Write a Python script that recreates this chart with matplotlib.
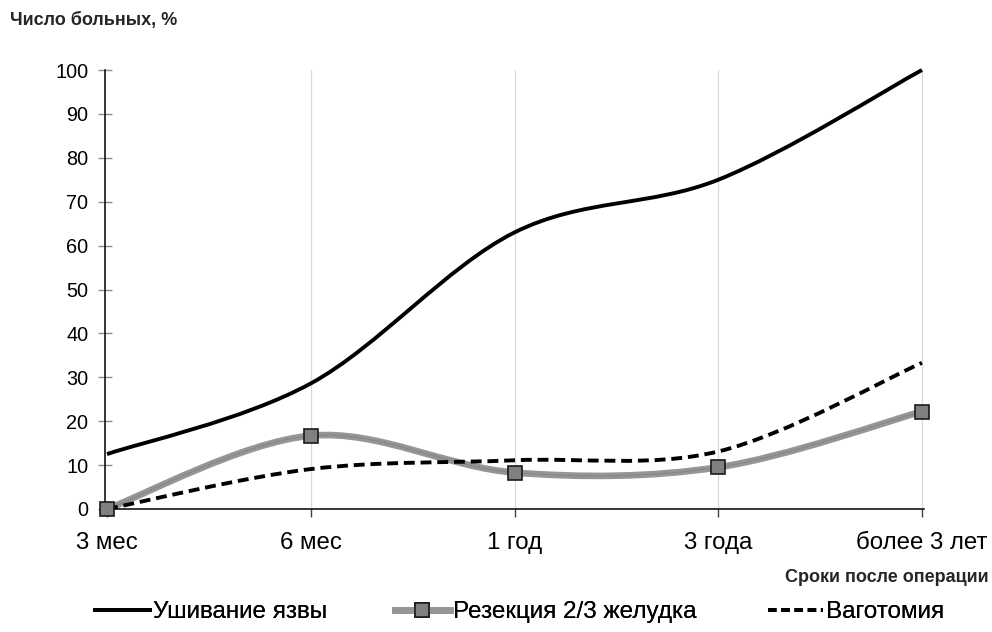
import matplotlib
matplotlib.use("Agg")
import matplotlib.pyplot as plt
import numpy as np
from matplotlib.path import Path
from matplotlib.patches import PathPatch
from matplotlib.lines import Line2D

plt.rcParams['font.family'] = ['Liberation Sans', 'DejaVu Sans']

# Data
categories = ["3 мес", "6 мес", "1 год", "3 года", "более 3 лет"]
suture = [12.5, 28.6, 63.0, 75.0, 100.0]       # Ушивание язвы
resection = [0.0, 16.7, 8.3, 9.5, 22.2]        # Резекция 2/3 желудка
vagotomy = [0.0, 9.1, 11.1, 13.1, 33.3]        # Ваготомия
y_ticks = [0, 10, 20, 30, 40, 50, 60, 70, 80, 90, 100]

series_names = ["Ушивание язвы", "Резекция 2/3 желудка", "Ваготомия"]
y_title = "Число больных, %"
x_title = "Сроки после операции"


def smooth_path(xs, ys):
    """Cubic Bezier path through the points (Catmull-Rom style control points)."""
    pts = np.column_stack([xs, ys]).astype(float)
    n = len(pts)
    verts = [pts[0]]
    codes = [Path.MOVETO]
    for i in range(n - 1):
        p0 = pts[i - 1] if i > 0 else pts[i]
        p1 = pts[i]
        p2 = pts[i + 1]
        p3 = pts[i + 2] if i + 2 < n else pts[i + 1]
        c1 = p1 + (p2 - p0) / 6.0
        c2 = p2 - (p3 - p1) / 6.0
        verts += [c1, c2, p2]
        codes += [Path.CURVE4] * 3
    return Path(verts, codes)


fig = plt.figure(figsize=(9.92, 6.32), dpi=100)
ax = fig.add_axes([105 / 992, (632 - 509) / 632, 819 / 992, 439 / 632])

x = np.arange(len(categories))

ax.set_xlim(-0.01, 4.01)
ax.set_ylim(0, 100)

# vertical gridlines
for xi in x[1:]:
    ax.axvline(xi, color="#d9d9d9", lw=0.9, zorder=0)

lw_main = 2.8
dash = (0, (2.8, 1.5))
res_color = "#969696"
res_lw = 4.8

ax.add_patch(PathPatch(smooth_path(x, suture), fill=False, edgecolor="black",
                       lw=lw_main, zorder=3, clip_on=False))
ax.add_patch(PathPatch(smooth_path(x, vagotomy), fill=False, edgecolor="black",
                       lw=lw_main, linestyle=dash, zorder=3, clip_on=False))
ax.add_patch(PathPatch(smooth_path(x, resection), fill=False, edgecolor=res_color,
                       lw=res_lw, zorder=2, clip_on=False))
ax.add_patch(PathPatch(smooth_path(x, resection), fill=False, edgecolor="#6e6e6e",
                       lw=1.0, linestyle=(0, (0.5, 1.0)), zorder=2, clip_on=False))
ax.plot(x, resection, ls="none", marker="s", ms=9.5, mfc="#808080",
        mec="#1a1a1a", mew=1.2, zorder=4, clip_on=False)

# spines
for s in ["top", "right"]:
    ax.spines[s].set_visible(False)
ax.spines["left"].set_linewidth(1.1)
ax.spines["bottom"].set_linewidth(1.1)
ax.spines["left"].set_color("black")
ax.spines["bottom"].set_color("black")

ax.set_yticks(y_ticks)
ax.set_yticklabels([str(v) for v in y_ticks], fontsize=14.3)
ax.tick_params(axis="y", direction="inout", length=10, width=1, color="#8c8c8c", pad=7)
ax.set_xticks(x)
ax.set_xticklabels(categories, fontsize=17.3)
ax.tick_params(axis="x", direction="out", length=6, width=1, color="#404040", pad=10.5)

fig.text(10 / 992, 1 - 20 / 632, y_title, fontsize=13, fontweight="bold",
         color="#262626", ha="left", va="center")
fig.text(989 / 992, 1 - 578 / 632, x_title, fontsize=13, fontweight="bold",
         color="#262626", ha="right", va="center")

# legend, three entries positioned along the bottom
h1 = Line2D([], [], color="black", lw=lw_main)
h2 = Line2D([], [], color=res_color, lw=res_lw, marker="s", ms=9.5, mfc="#808080",
            mec="#1a1a1a", mew=1.2)
h3 = Line2D([], [], color="black", lw=lw_main, linestyle=(0, (2.2, 1.2)))
handles = [h1, h2, h3]
x_pos = [95, 395, 768]
for h, name, xp in zip(handles, series_names, x_pos):
    leg = fig.legend([h], [name], loc="center left",
                     bbox_to_anchor=(xp / 992, 1 - 612 / 632),
                     frameon=False, fontsize=17.5, handlelength=2.25,
                     handletextpad=0.12, borderaxespad=0, borderpad=0)
    fig.add_artist(leg)

fig.savefig("out.png", dpi=100, facecolor="white")
